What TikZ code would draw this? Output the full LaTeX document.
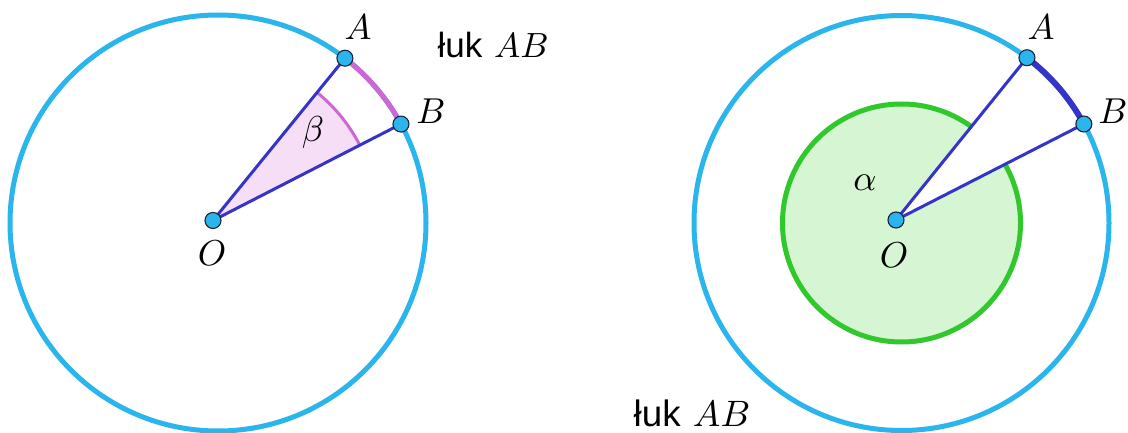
\documentclass[tikz,border=0pt]{standalone}
\usepackage{fontspec}
\newfontfamily\lsans{Liberation Sans}
\usetikzlibrary{calc}
\definecolor{cyanc}{RGB}{42,181,236}
\definecolor{bluel}{RGB}{52,52,200}
\definecolor{magc}{RGB}{206,102,212}
\definecolor{pinkf}{RGB}{246,222,246}
\definecolor{greenc}{RGB}{48,200,44}
\definecolor{greenf}{RGB}{214,245,210}
\definecolor{ptdraw}{RGB}{25,35,60}
\tikzset{
  bigcirc/.style={draw=cyanc, line width=5},
  seg/.style={draw=bluel, line width=3},
  pt/.style={circle, fill=cyanc, draw=ptdraw, line width=1.1, minimum size=16, inner sep=0},
  lbl/.style={font=\normalsize, inner sep=0, scale=3.6},
  luk/.style={font=\normalsize, inner sep=0, anchor=base west, scale=3.5},
}
\begin{document}
\begin{tikzpicture}[x=1pt,y=1pt]
\useasboundingbox (0,0) rectangle (1128,432);
% ---------- left figure ----------
\coordinate (C1) at (218,209);
\coordinate (O1) at (213,211.5);
\coordinate (A1) at ($(C1)+(52.4:208)$);
\coordinate (B1) at ($(C1)+(28.4:208)$);
\fill[pinkf] (O1) -- ($(O1)+(27.15:165)$) arc[start angle=27.15, end angle=50.9, radius=165] -- cycle;
\draw[magc, line width=3] ($(O1)+(27.15:165)$) arc[start angle=27.15, end angle=50.9, radius=165];
\draw[bigcirc] (C1) circle[radius=208];
\draw[magc, line width=5] ($(C1)+(28.4:208)$) arc[start angle=28.4, end angle=52.4, radius=208];
\draw[seg] (O1) -- (A1);
\draw[seg] (O1) -- (B1);
\node[pt] (pO1) at (O1) {};
\node[pt] (pA1) at (A1) {};
\node[pt] (pB1) at (B1) {};
\node[lbl] (lA1) at (358,405) {$A$};
\node[lbl] (lB1) at (431,321) {$B$};
\node[lbl] (lO1) at (212,179) {$O$};
\node[lbl] (lbeta) at (313,299) {$\beta$};
\node[luk] (luk1) at (437,374) {{\lsans łuk} $AB$};
% ---------- right figure ----------
\coordinate (C2) at (901.5,209);
\coordinate (O2) at (896,212);
\coordinate (A2) at ($(C2)+(52.8:207.5)$);
\coordinate (B2) at ($(C2)+(28.5:207.5)$);
\draw[greenc, fill=greenf, line width=5] (C2) circle[radius=119];
\fill[white] (O2) -- (A2) -- (B2) -- cycle;
\draw[bigcirc] (C2) circle[radius=207.5];
\draw[bluel, line width=6] ($(C2)+(28.5:207.5)$) arc[start angle=28.5, end angle=52.8, radius=207.5];
\draw[seg] (O2) -- (A2);
\draw[seg] (O2) -- (B2);
\node[pt] (pO2) at (O2) {};
\node[pt] (pA2) at (A2) {};
\node[pt] (pB2) at (B2) {};
\node[lbl] (lA2) at (1041,405) {$A$};
\node[lbl] (lB2) at (1113,321) {$B$};
\node[lbl] (lO2) at (894,177) {$O$};
\node[lbl] (lalpha) at (865,249) {$\alpha$};
\node[luk, scale=1.05] (luk2) at (633,5.5) {{\lsans łuk} $AB$};
\end{tikzpicture}
\end{document}
